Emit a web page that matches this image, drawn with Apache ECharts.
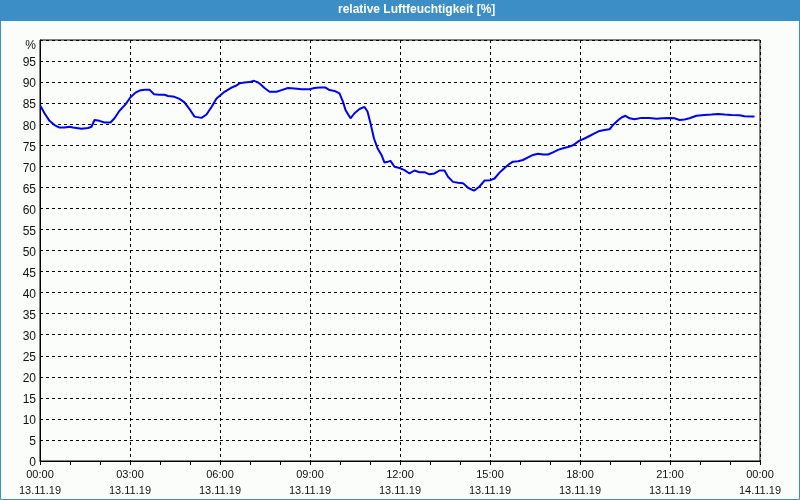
<!DOCTYPE html>
<html>
<head>
<meta charset="utf-8">
<script src="https://cdn.jsdelivr.net/npm/echarts@6/dist/echarts.min.js"></script>
<style>
html,body{margin:0;padding:0;background:#fbfdfb;}
#chart{width:800px;height:500px;}
</style>
</head>
<body>
<div id="chart"></div>
<script>
const chartTitle = 'relative Luftfeuchtigkeit [%]';
// minutes since 13.11.19 00:00
const times = [1,9,19,29,39,49,59,66,69,83,96,103,109,119,129,141,149,159,171,181,191,199,209,219,228,239,249,256,269,279,289,299,309,323,333,343,353,359,369,383,393,399,409,419,428,435,441,449,459,473,483,496,509,523,539,549,559,571,579,589,599,606,611,621,629,639,649,655,661,668,675,683,689,696,701,709,719,729,739,749,759,769,779,789,799,809,816,826,836,846,856,868,879,889,901,909,919,928,938,946,956,966,976,986,996,1006,1016,1026,1036,1046,1056,1066,1079,1089,1099,1109,1119,1129,1139,1146,1155,1163,1171,1179,1189,1203,1219,1233,1245,1259,1269,1279,1289,1299,1313,1329,1343,1356,1369,1383,1399,1409,1423,1429];
const humidity = [84.3,82.6,80.8,79.8,79.2,79.2,79.4,79.2,78.9,78.9,79.1,79.4,81.0,80.8,80.4,80.4,81.4,83.2,84.7,86.4,87.5,88.0,88.2,88.2,87.1,87.0,87.0,86.7,86.5,86.0,85.2,83.6,81.8,81.5,82.3,84.1,86.1,86.7,87.7,88.7,89.2,89.7,89.9,90.0,90.3,90.0,89.5,88.6,87.7,87.7,88.1,88.6,88.5,88.3,88.3,88.6,88.7,88.7,88.1,87.9,87.3,85.3,83.4,81.4,82.6,83.6,84.1,83.0,80.2,76.6,74.3,72.7,70.9,71.1,71.3,69.9,69.6,69.1,68.3,69.0,68.6,68.6,68.1,68.3,69.0,69.0,67.5,66.3,66.1,66.0,64.9,64.2,65.2,66.6,66.7,67.1,68.5,69.5,70.5,71.1,71.2,71.5,72.1,72.7,73.0,72.8,72.8,73.3,73.9,74.3,74.6,75.0,76.1,76.6,77.2,77.8,78.4,78.6,78.8,79.8,80.8,81.6,82.0,81.4,81.2,81.5,81.5,81.3,81.4,81.5,81.4,81.0,81.1,81.4,82.0,82.2,82.3,82.4,82.3,82.2,82.1,81.9,81.8,81.8];
const xTickLabels = ['00:00\n13.11.19','03:00\n13.11.19','06:00\n13.11.19','09:00\n13.11.19','12:00\n13.11.19','15:00\n13.11.19','18:00\n13.11.19','21:00\n13.11.19','00:00\n14.11.19'];
const yUnitLabel = '%';

const chart = echarts.init(document.getElementById('chart'), null, {renderer:'canvas'});
const font = 'Liberation Sans';
chart.setOption({
  backgroundColor: '#fbfdfb',
  animation: false,
  graphic: [
    {type:'rect', shape:{x:0,y:0,width:800,height:21}, style:{fill:'#3c8ec6'}, z:10},
    {type:'rect', shape:{x:0.5,y:0.5,width:799,height:499}, style:{fill:'none', stroke:'#3c8ec6', lineWidth:1}, z:10},
    {type:'text', left:338, top:4, style:{text:chartTitle, fill:'#ffffff', font:'bold 12px "Liberation Sans"'}, z:11}
  ],
  grid: {left:40, right:40, top:40, bottom:39, show:true, borderColor:'#000', borderWidth:1, backgroundColor:'transparent'},
  xAxis: {
    type:'value', min:0, max:1440, interval:180,
    axisLine:{show:true, lineStyle:{color:'#000', width:1}},
    axisTick:{show:true, length:4, lineStyle:{color:'#000'}},
    minorTick:{show:true, splitNumber:3, length:4, lineStyle:{color:'#000'}},
    splitLine:{show:true, lineStyle:{color:'#000', type:[3,3], width:1}},
    axisLabel:{margin:6, color:'#111', fontFamily:font, fontSize:11, lineHeight:16,
      formatter: v => xTickLabels[Math.round(v/180)] || ''}
  },
  yAxis: {
    type:'value', min:0, max:100, interval:5,
    axisLine:{show:true, lineStyle:{color:'#000', width:1}},
    axisTick:{show:false},
    splitLine:{show:true, lineStyle:{color:'#000', type:[3,3], width:1}},
    axisLabel:{margin:4, color:'#111', fontFamily:font, fontSize:12, padding:[4,0,0,0],
      formatter: v => v === 100 ? '{u|' + yUnitLabel + '}' : String(v),
      rich:{u:{fontFamily:font, fontSize:12, color:'#111', padding:[8,0,0,0]}}}
  },
  series: [{
    type:'line', data: times.map((t,i)=>[t, humidity[i]]),
    showSymbol:false, smooth:false,
    lineStyle:{color:'#0000ee', width:2}
  }]
});
</script>
</body>
</html>
